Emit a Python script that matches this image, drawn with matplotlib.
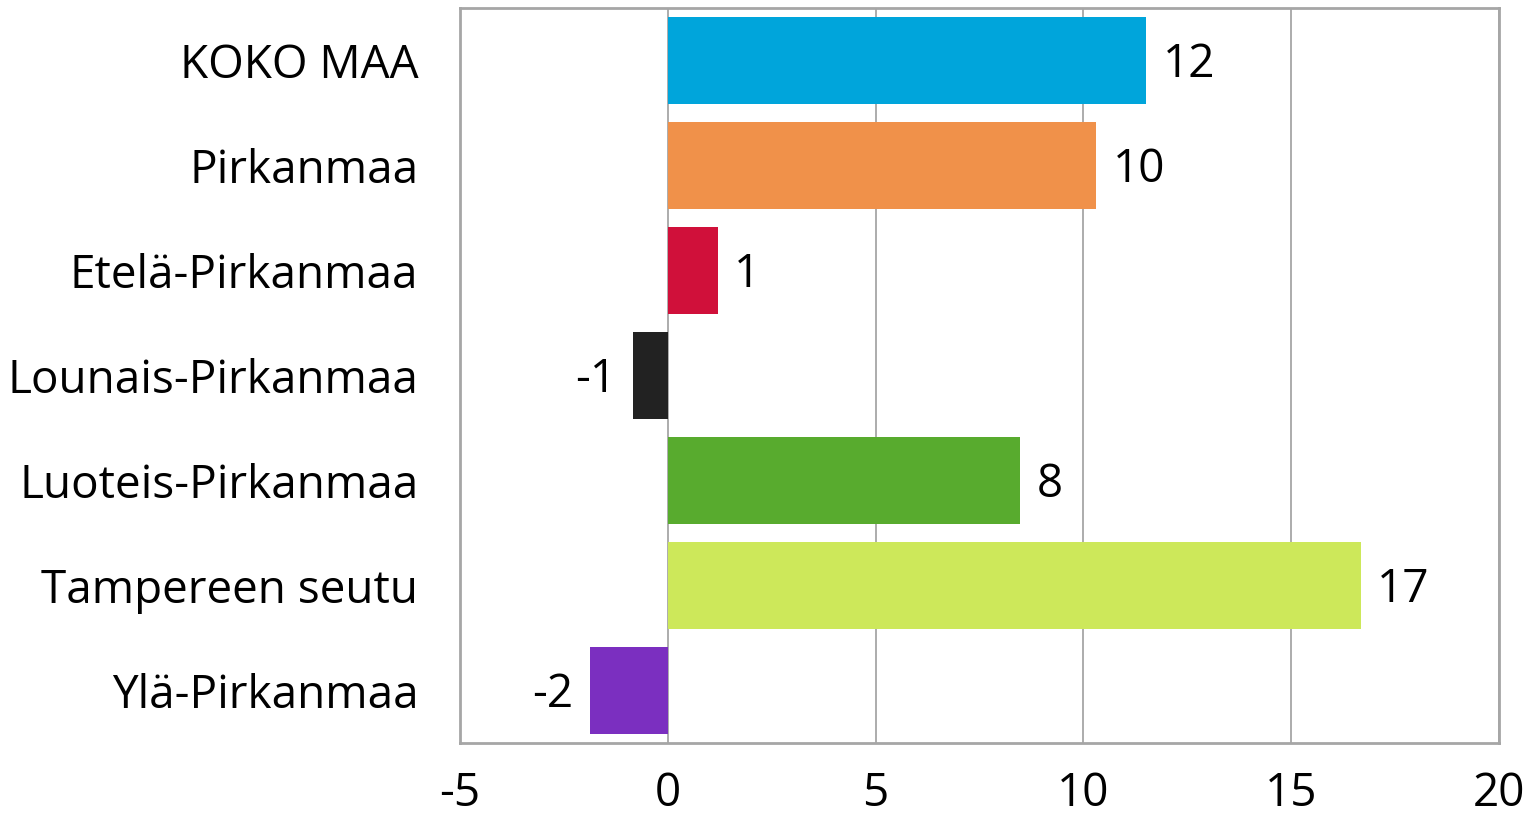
import numpy as np
import matplotlib
matplotlib.use('Agg')
import matplotlib.pyplot as plt

plt.rcParams['font.family'] = ['Open Sans', 'DejaVu Sans']

regions = ['KOKO MAA', 'Pirkanmaa', 'Etelä-Pirkanmaa', 'Lounais-Pirkanmaa',
           'Luoteis-Pirkanmaa', 'Tampereen seutu', 'Ylä-Pirkanmaa']
values = [11.5, 10.3, 1.2, -0.84, 8.47, 16.67, -1.88]
colors = ['#00A5DB', '#F0914A', '#D0103A', '#222222', '#58AB2E', '#CDE85A', '#7B2FC0']
xticks = [-5, 0, 5, 10, 15, 20]

fig = plt.figure(figsize=(15.4, 8.22), dpi=100)
ax = fig.add_axes([0.2987, 0.0961, 0.6747, 0.8939])

ind = np.arange(len(regions))
bars = ax.barh(ind, values, height=0.83, color=colors, zorder=3)

ax.set_xlim(-5, 20)
ax.set_ylim(len(regions) - 0.5, -0.5)
ax.set_xticks(xticks)
ax.set_xticklabels([str(t) for t in xticks])
ax.set_yticks(ind)
ax.set_yticklabels(regions)
ax.tick_params(axis='both', length=0, labelsize=33)
ax.tick_params(axis='x', pad=20)
ax.tick_params(axis='y', pad=30)

ax.grid(axis='x', color='#A6A6A6', linewidth=1.3, zorder=0)
for s in ax.spines.values():
    s.set_color('#A6A6A6')
    s.set_linewidth(2)

for rect, v in zip(bars, values):
    y = rect.get_y() + rect.get_height() / 2 + 0.04
    if v >= 0:
        ax.text(v + 0.4, y, '%.0f' % v, ha='left', va='center', fontsize=33)
    else:
        ax.text(v - 0.4, y, '%.0f' % v, ha='right', va='center', fontsize=33)

fig.savefig('out.png', dpi=100)
